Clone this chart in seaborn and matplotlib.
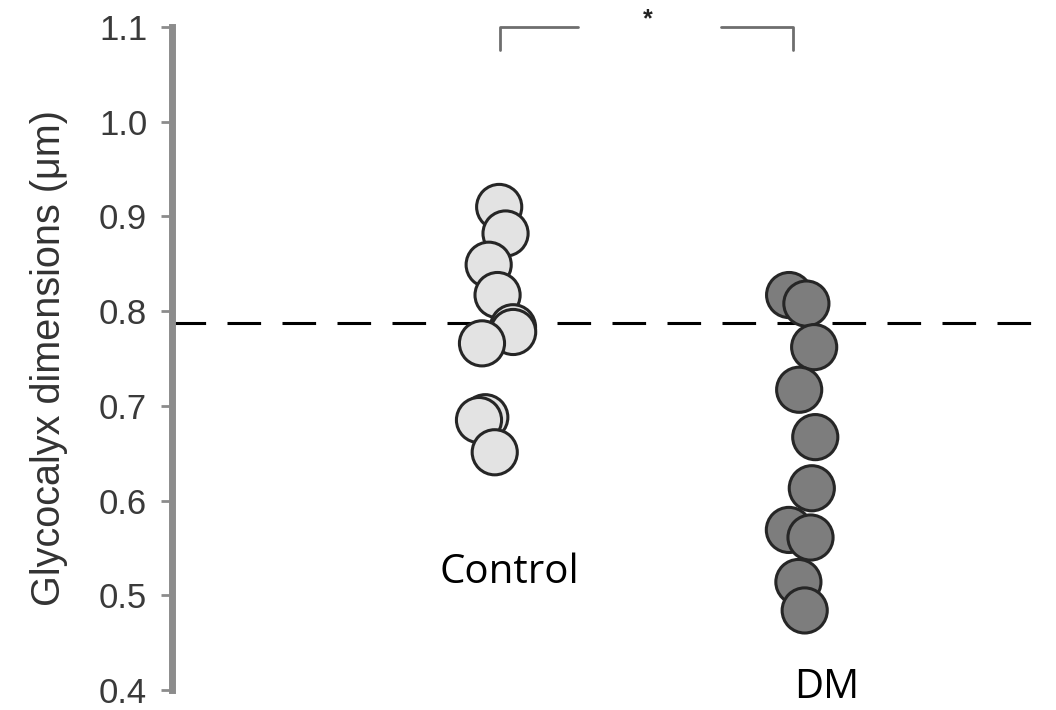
import numpy as np
import pandas as pd
import matplotlib
matplotlib.use("Agg")
import matplotlib.pyplot as plt
import seaborn as sns

# values
groups = ["Control", "DM"]
control_vals = [0.910, 0.882, 0.849, 0.817, 0.783, 0.778, 0.766, 0.688, 0.685, 0.651]
dm_vals = [0.817, 0.808, 0.762, 0.717, 0.667, 0.613, 0.569, 0.561, 0.514, 0.484]
ref_line = 0.787
yticks = [0.4, 0.5, 0.6, 0.7, 0.8, 0.9, 1.0, 1.1]
ytick_labels = ["0.4", "0.5", "0.6", "0.7", "0.8", "0.9", "1.0", "1.1"]
sig_label = "*"

df = pd.DataFrame({
    "group": [groups[0]] * len(control_vals) + [groups[1]] * len(dm_vals),
    "value": control_vals + dm_vals,
})

sns.set_style("white")
plt.rcParams["font.family"] = ["Liberation Sans", "DejaVu Sans"]

fig, ax = plt.subplots(figsize=(10.56, 7.10), dpi=100)
fig.subplots_adjust(left=0.163, right=1.0, top=1 - 27 / 710, bottom=1 - 690 / 710)

np.random.seed(3)
sns.stripplot(data=df, x="group", y="value", hue="group", order=groups,
              palette={"Control": "#e3e3e3", "DM": "#7d7d7d"},
              jitter=0.065, size=32.5, linewidth=2.2, edgecolor="#262626",
              legend=False, ax=ax)

ax.set_xlim(-1.045, 1.797)
ax.set_ylim(0.4, 1.1)

# reference line
ax.axhline(ref_line, xmin=0, xmax=0.99, color="black", lw=2.2,
           dashes=(11, 7), zorder=0)

# axes styling
for s in ["top", "right", "bottom"]:
    ax.spines[s].set_visible(False)
ax.spines["left"].set_linewidth(5)
ax.spines["left"].set_color("#8c8c8c")
ax.set_xticks([])
ax.set_xlabel("")
ax.set_yticks(yticks)
ax.set_yticklabels(ytick_labels)
ax.tick_params(axis="y", direction="out", length=8, width=2, color="#8c8c8c",
               labelsize=25, labelcolor="#3a3a3a", pad=10, left=True)
ax.set_ylabel("Glycocalyx dimensions (μm)", fontsize=28.5, color="#333333",
              labelpad=22)

# group labels inside the plot
ax.text(0.04, 0.524, groups[0], fontsize=29, family=["Open Sans", "DejaVu Sans"],
        ha="center", va="center", color="black")
ax.text(1.06, 0.402, groups[1], fontsize=29, family=["Open Sans", "DejaVu Sans"],
        ha="center", va="center", color="black", clip_on=False)

# significance bracket
ax.plot([0.01, 0.01, 0.26], [1.076, 1.1, 1.1], color="#6e6e6e", lw=2, clip_on=False)
ax.plot([0.72, 0.95, 0.95], [1.1, 1.1, 1.076], color="#6e6e6e", lw=2, clip_on=False)
ax.text(0.485, 1.108, sig_label, fontsize=18, fontweight="bold", ha="center",
        va="center", color="#222222", clip_on=False)

plt.savefig("out.png", dpi=100)
